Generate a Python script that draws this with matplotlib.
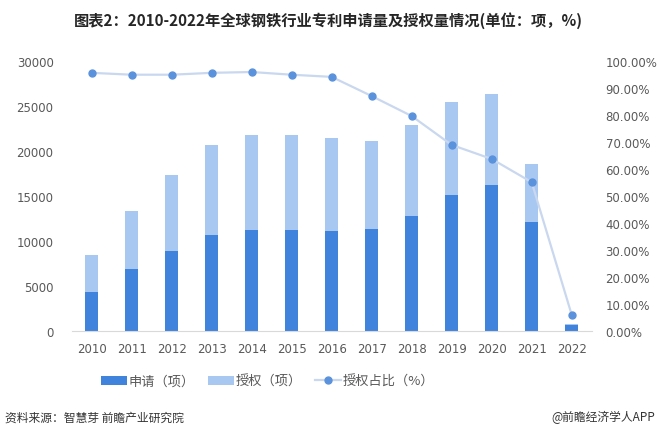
import matplotlib
matplotlib.use("Agg")
import matplotlib.pyplot as plt
from matplotlib.ticker import FuncFormatter

plt.rcParams['font.family'] = ['Noto Sans CJK SC', 'DejaVu Sans']

years = ['2010', '2011', '2012', '2013', '2014', '2015', '2016',
         '2017', '2018', '2019', '2020', '2021', '2022']
apply_cnt = [4300, 6850, 8900, 10650, 11200, 11200, 11100,
             11300, 12750, 15100, 16200, 12100, 650]
grant_cnt = [4100, 6450, 8400, 9950, 10550, 10550, 10300,
             9800, 10100, 10350, 10100, 6450, 40]
grant_ratio = [95.5, 94.8, 94.8, 95.5, 95.8, 94.8, 94.0,
               86.9, 79.5, 68.8, 63.6, 55.0, 5.9]

c_dark = '#4083DD'
c_light = '#A9C8F1'
c_line = '#C9D8EF'
c_dot = '#5B92DC'
c_text = '#595959'

fig = plt.figure(figsize=(6.57, 4.39), dpi=100)
ax = fig.add_axes([0.109, 0.2444, 0.7916, 0.6151])
x = range(len(years))

b1 = ax.bar(x, apply_cnt, width=0.32, color=c_dark, label='申请（项）', zorder=2)
b2 = ax.bar(x, grant_cnt, width=0.32, bottom=apply_cnt, color=c_light,
            label='授权（项）', zorder=2)
ax.set_xlim(-0.5, len(years) - 0.5)
ax.set_ylim(0, 30000)
ax.set_yticks(range(0, 30001, 5000))
ax.set_xticks(list(x))
ax.set_xticklabels(years)

ax2 = ax.twinx()
l1, = ax2.plot(x, [r / 100 for r in grant_ratio], color=c_line, lw=1.6,
               marker='o', ms=5, mfc=c_dot, mec=c_dot, label='授权占比（%）', zorder=3)
ax2.set_ylim(0, 1.0)
ax2.set_yticks([i / 10 for i in range(11)])
ax2.yaxis.set_major_formatter(FuncFormatter(lambda v, p: '%.2f%%' % (v * 100)))

for a in (ax, ax2):
    for s in a.spines.values():
        s.set_visible(False)
    a.tick_params(length=0, labelsize=8.5, colors=c_text)
ax.spines['bottom'].set_visible(True)
ax.spines['bottom'].set_color('#D9D9D9')
ax.tick_params(axis='y', pad=13)
ax.tick_params(axis='x', pad=8)
ax2.tick_params(axis='y', pad=10)
for lab in ax.get_xticklabels() + ax.get_yticklabels() + ax2.get_yticklabels():
    lab.set_family('DejaVu Sans')

fig.legend([b1, b2, l1], ['申请（项）', '授权（项）', '授权占比（%）'],
           loc='center', bbox_to_anchor=(0.407, 0.129), ncol=3, frameon=False,
           fontsize=9.5, labelcolor=c_text, handlelength=2.0, handletextpad=0.1,
           columnspacing=1.0)

fig.text(0.5, 0.953, '图表2：2010-2022年全球钢铁行业专利申请量及授权量情况(单位：项，%)',
         ha='center', va='center', fontsize=11, fontweight='bold', color='#262626')
fig.text(0.008, 0.048, '资料来源：智慧芽 前瞻产业研究院', ha='left', va='center',
         fontsize=8.5, color='#333333')
fig.text(0.997, 0.048, '@前瞻经济学人APP', ha='right', va='center',
         fontsize=8.5, color='#333333')

fig.savefig('out.png', dpi=100)
